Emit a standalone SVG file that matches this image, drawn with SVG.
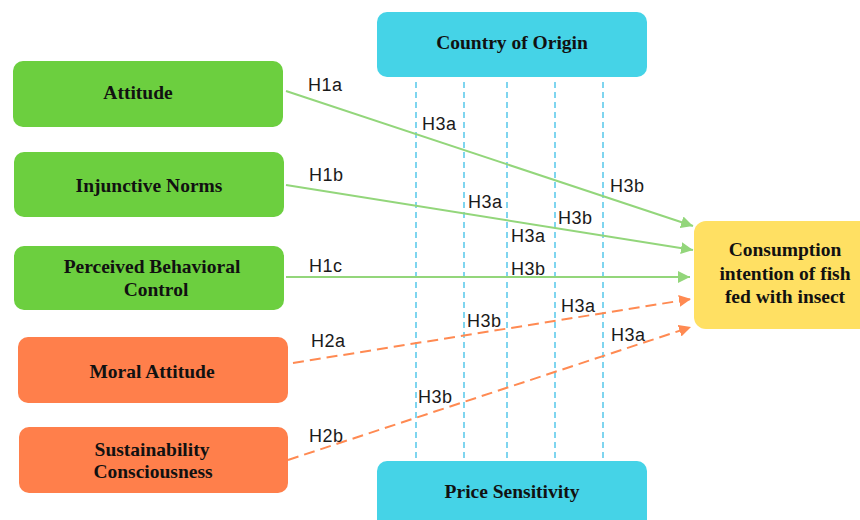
<svg xmlns="http://www.w3.org/2000/svg" width="860" height="520" viewBox="0 0 860 520">
  <style>
    .node-label { font-family: "Liberation Serif", "Times New Roman", serif; font-weight: bold; font-size: 19.5px; fill: #111; text-anchor: middle; }
    .hyp { font-family: "Liberation Sans", Arial, sans-serif; font-size: 18px; fill: #1a1a1a; letter-spacing: 0.5px; }
    .green { fill: #6ccf3f; }
    .orange { fill: #ff7f4b; }
    .cyan { fill: #45d3e7; }
    .yellow { fill: #ffe063; }
    .link-g { stroke: #93d67b; stroke-width: 2; fill: none; }
    .link-o { stroke: #ff8a52; stroke-width: 2; fill: none; stroke-dasharray: 11 6; }
    .mod { stroke: #56c8ea; stroke-width: 1.5; fill: none; stroke-dasharray: 6 4; }
  </style>
  <defs>
    <marker id="arrow-g" viewBox="0 0 10 10" refX="10" refY="5" markerWidth="12" markerHeight="12" markerUnits="userSpaceOnUse" orient="auto">
      <path d="M0,0 L10,5 L0,10 Z" fill="#93d67b"/>
    </marker>
    <marker id="arrow-o" viewBox="0 0 10 10" refX="10" refY="5" markerWidth="12" markerHeight="12" markerUnits="userSpaceOnUse" orient="auto">
      <path d="M0,0 L10,5 L0,10 Z" fill="#ff8a52"/>
    </marker>
  </defs>

  <rect width="860" height="520" fill="#ffffff"/>

  <!-- moderator guide lines -->
  <g id="moderator-lines">
    <line class="mod" x1="416" y1="82" x2="416" y2="458"/>
    <line class="mod" x1="464" y1="82" x2="464" y2="458"/>
    <line class="mod" x1="507" y1="82" x2="507" y2="458"/>
    <line class="mod" x1="555" y1="82" x2="555" y2="458"/>
    <line class="mod" x1="603" y1="82" x2="603" y2="458"/>
  </g>

  <!-- hypothesis paths -->
  <g id="connectors">
    <line class="link-g" x1="286" y1="91" x2="693" y2="226" marker-end="url(#arrow-g)"/>
    <line class="link-g" x1="286" y1="185" x2="693" y2="250" marker-end="url(#arrow-g)"/>
    <line class="link-g" x1="286" y1="277" x2="690" y2="277" marker-end="url(#arrow-g)"/>
    <line class="link-o" x1="293" y1="363" x2="691" y2="299" marker-end="url(#arrow-o)"/>
    <line class="link-o" x1="288" y1="460" x2="691" y2="327" marker-end="url(#arrow-o)"/>
  </g>

  <g id="hypothesis-labels">
    <text class="hyp" x="308" y="91">H1a</text>
    <text class="hyp" x="309" y="181">H1b</text>
    <text class="hyp" x="309" y="272">H1c</text>
    <text class="hyp" x="311" y="347">H2a</text>
    <text class="hyp" x="309" y="442">H2b</text>
    <text class="hyp" x="422" y="130">H3a</text>
    <text class="hyp" x="610" y="192">H3b</text>
    <text class="hyp" x="468" y="208">H3a</text>
    <text class="hyp" x="558" y="224">H3b</text>
    <text class="hyp" x="511" y="242">H3a</text>
    <text class="hyp" x="511" y="275">H3b</text>
    <text class="hyp" x="561" y="312">H3a</text>
    <text class="hyp" x="467" y="327">H3b</text>
    <text class="hyp" x="611" y="341">H3a</text>
    <text class="hyp" x="418" y="403">H3b</text>
  </g>

  <g id="attitude">
    <rect class="green" x="13" y="61" width="270" height="66" rx="10"/>
    <text class="node-label" x="138" y="99">Attitude</text>
  </g>
  <g id="injunctive-norms">
    <rect class="green" x="14" y="152" width="270" height="65" rx="10"/>
    <text class="node-label" x="149" y="192">Injunctive Norms</text>
  </g>
  <g id="perceived-behavioral-control">
    <rect class="green" x="14" y="246" width="270" height="64" rx="10"/>
    <text class="node-label" x="152" y="273">Perceived Behavioral</text>
    <text class="node-label" x="156" y="296">Control</text>
  </g>
  <g id="moral-attitude">
    <rect class="orange" x="18" y="337" width="270" height="66" rx="10"/>
    <text class="node-label" x="152" y="378">Moral Attitude</text>
  </g>
  <g id="sustainability-consciousness">
    <rect class="orange" x="19" y="427" width="269" height="66" rx="10"/>
    <text class="node-label" x="152" y="456">Sustainability</text>
    <text class="node-label" x="153" y="478">Consciousness</text>
  </g>
  <g id="country-of-origin">
    <rect class="cyan" x="377" y="12" width="270" height="65" rx="10"/>
    <text class="node-label" x="512" y="49">Country of Origin</text>
  </g>
  <g id="price-sensitivity">
    <rect class="cyan" x="377" y="461" width="270" height="70" rx="10"/>
    <text class="node-label" x="512" y="498">Price Sensitivity</text>
  </g>
  <g id="consumption-intention">
    <rect class="yellow" x="694" y="221" width="182" height="108" rx="12"/>
    <text class="node-label" x="785" y="256">Consumption</text>
    <text class="node-label" x="785" y="280">intention of fish</text>
    <text class="node-label" x="785" y="303">fed with insect</text>
  </g>
</svg>
